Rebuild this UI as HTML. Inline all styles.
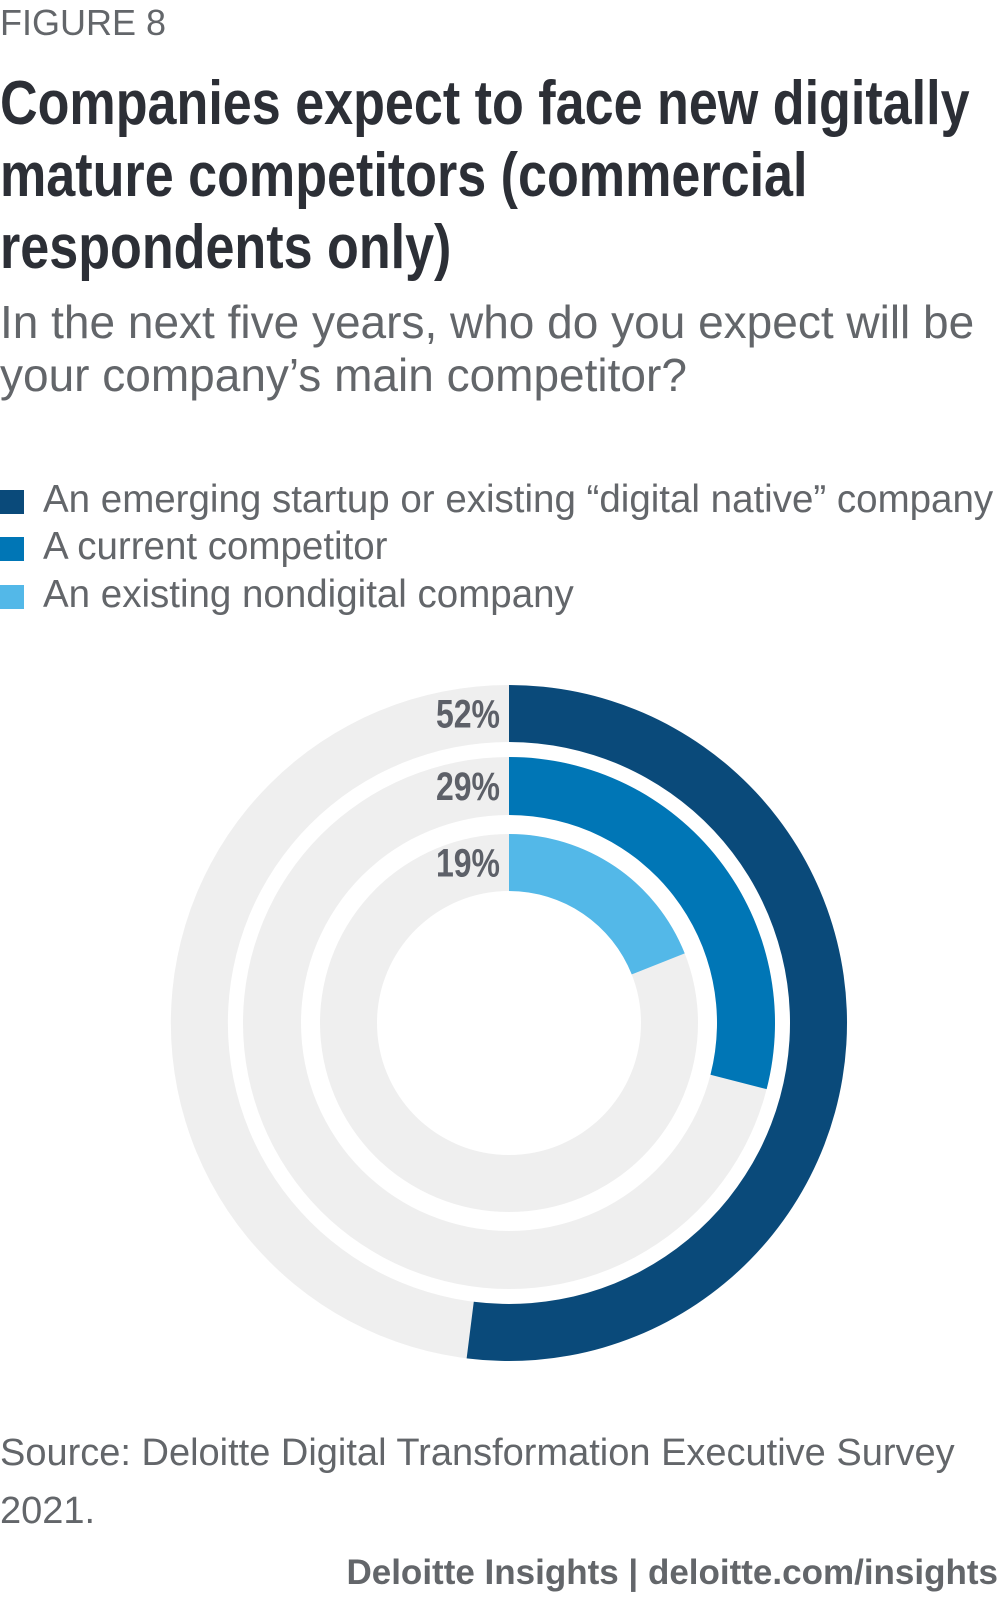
<!DOCTYPE html>
<html><head><meta charset="utf-8"><style>
body{margin:0;width:1000px;height:1600px;background:#fff;position:relative;overflow:hidden;font-family:"Liberation Sans",sans-serif;color:#63666a}
.a{position:absolute;white-space:nowrap}
.t{position:absolute;left:0;white-space:nowrap;font-weight:bold;font-size:62px;line-height:72px;color:#2c2f36;transform:scaleX(0.84);transform-origin:0 0}
</style></head><body>
<div class="a" style="left:0;top:2px;font-size:36px;color:#63666a">FIGURE 8</div>
<div>
<div class="t" style="top:68px">Companies expect to face new digitally</div>
<div class="t" style="top:140px">mature competitors (commercial</div>
<div class="t" style="top:212px">respondents only)</div>
</div>
<div class="a" style="left:0;top:296px;font-size:46px;line-height:53px;color:#63666a">In the next five years, who do you expect will be<br>your company’s main competitor?</div>
<div>
<div class="a" style="left:0;top:476px;font-size:38.5px;line-height:48px"><span style="display:inline-block;width:24px;height:24px;background:#0a4a7a;margin-right:19px;vertical-align:-2px"></span>An emerging startup or existing “digital native” company</div>
<div class="a" style="left:0;top:523px;font-size:38.5px;line-height:48px"><span style="display:inline-block;width:24px;height:24px;background:#0076b6;margin-right:19px;vertical-align:-2px"></span>A current competitor</div>
<div class="a" style="left:0;top:571px;font-size:38.5px;line-height:48px"><span style="display:inline-block;width:24px;height:24px;background:#53b8e8;margin-right:19px;vertical-align:-2px"></span>An existing nondigital company</div>
</div>
<svg id="chart" width="1000" height="1600" style="position:absolute;left:0;top:0"></svg>
<div class="a" style="left:0;top:1424px;font-size:38px;line-height:58px">Source: Deloitte Digital Transformation Executive Survey<br>2021.</div>
<div class="a" style="right:2px;top:1553px;font-size:35px;font-weight:bold;color:#63666a">Deloitte Insights | deloitte.com/insights</div>
<script>
const categories=["An emerging startup or existing digital native company","A current competitor","An existing nondigital company"];
const values=[52,29,19];
const valueLabels=["52%","29%","19%"];
const colors=["#0a4a7a","#0076b6","#53b8e8"];
const outerR=[338,266,189];
const innerR=[281,208,132];
const cx=509,cy=1023;
const svg=document.getElementById('chart');
const NS='http://www.w3.org/2000/svg';
function ang(v){return v/100*2*Math.PI;}
function pt(r,a){return [cx+r*Math.sin(a),cy-r*Math.cos(a)];}
function arcPath(r0,r1,a0,a1){
  if(a1-a0>=2*Math.PI-1e-6){
    return `M${cx},${cy-r1}A${r1},${r1} 0 1 1 ${cx},${cy+r1}A${r1},${r1} 0 1 1 ${cx},${cy-r1}Z M${cx},${cy-r0}A${r0},${r0} 0 1 0 ${cx},${cy+r0}A${r0},${r0} 0 1 0 ${cx},${cy-r0}Z`;
  }
  const L=(a1-a0)>Math.PI?1:0;
  const [x1,y1]=pt(r1,a0),[x2,y2]=pt(r1,a1),[x3,y3]=pt(r0,a1),[x4,y4]=pt(r0,a0);
  return `M${x1},${y1}A${r1},${r1} 0 ${L} 1 ${x2},${y2}L${x3},${y3}A${r0},${r0} 0 ${L} 0 ${x4},${y4}Z`;
}
values.forEach((v,i)=>{
  const bg=document.createElementNS(NS,'path');
  bg.setAttribute('d',arcPath(innerR[i],outerR[i],0,2*Math.PI));
  bg.setAttribute('fill','#efefef');bg.setAttribute('fill-rule','evenodd');
  
  
  svg.appendChild(bg);
  const p=document.createElementNS(NS,'path');
  p.setAttribute('d',arcPath(innerR[i],outerR[i],0,ang(v)));
  p.setAttribute('fill',colors[i]);
  
  
  svg.appendChild(p);
  const t=document.createElementNS(NS,'text');
  const ty=cy-(outerR[i]+innerR[i])/2+14;
  t.setAttribute('transform',`translate(${cx-9},${ty}) scale(0.8,1)`);
  t.setAttribute('text-anchor','end');t.setAttribute('font-size','40');t.setAttribute('font-weight','bold');
  t.setAttribute('font-family','Liberation Sans, sans-serif');t.setAttribute('fill','#5d6068');
  t.textContent=valueLabels[i];
  
  
  svg.appendChild(t);
});
</script>
</body></html>
